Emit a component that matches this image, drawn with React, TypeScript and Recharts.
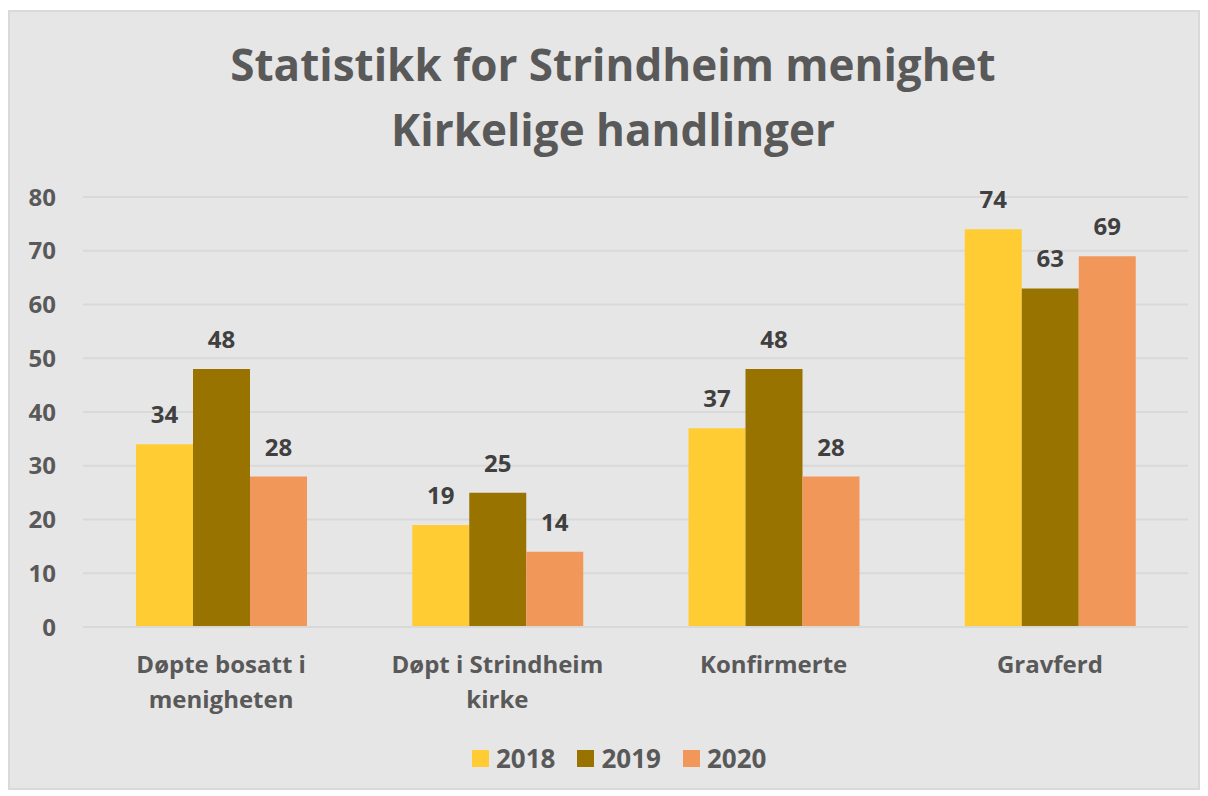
import React from "react";
import { BarChart, Bar, XAxis, YAxis, CartesianGrid, LabelList } from "recharts";

const categories = ["Døpte bosatt i menigheten", "Døpt i Strindheim kirke", "Konfirmerte", "Gravferd"];
const categoryLines = [["Døpte bosatt i", "menigheten"], ["Døpt i Strindheim", "kirke"], ["Konfirmerte"], ["Gravferd"]];
const values2018 = [34, 19, 37, 74];
const values2019 = [48, 25, 48, 63];
const values2020 = [28, 14, 28, 69];
const yTicks = [0, 10, 20, 30, 40, 50, 60, 70, 80];

const SERIES = [
  { key: "y2018", name: "2018", color: "#ffcc33" },
  { key: "y2019", name: "2019", color: "#997300" },
  { key: "y2020", name: "2020", color: "#f1975a" },
];

const FONT = "'Open Sans', sans-serif";
const TEXT = "#595959";

const data = categories.map((c, i) => ({
  name: c,
  y2018: values2018[i],
  y2019: values2019[i],
  y2020: values2020[i],
}));

const CategoryTick = ({ x, y, payload }: any) => {
  const lines = categoryLines[payload.index] || [payload.value];
  return (
    <text x={x} y={y + 38} textAnchor="middle" fill={TEXT} fontFamily={FONT} fontWeight={700} fontSize={24}>
      {lines.map((l, i) => (
        <tspan key={i} x={x} dy={i === 0 ? 0 : 35}>
          {l}
        </tspan>
      ))}
    </text>
  );
};

export default function App() {
  return (
    <div
      style={{
        position: "relative",
        width: 1188,
        height: 776,
        marginTop: 2,
        border: "2px solid #d9d9d9",
        background: "#e7e6e6",
      }}
    >
      <div
        style={{
          position: "absolute",
          left: 0,
          right: 0,
          top: 20,
          textAlign: "center",
          fontFamily: FONT,
          fontWeight: 700,
          fontSize: 44,
          lineHeight: "65px",
          color: TEXT,
        }}
      >
        <div style={{ marginLeft: 18 }}>Statistikk for Strindheim menighet</div>
        <div style={{ marginLeft: 18 }}>Kirkelige handlinger</div>
      </div>
      <BarChart
        width={1188}
        height={776}
        data={data}
        margin={{ top: 185, right: 10, bottom: 61, left: 13 }}
        barGap={0}
        barSize={57}
      >
        <CartesianGrid vertical={false} stroke="#d9d9d9" strokeWidth={2} />
        <XAxis
          dataKey="name"
          axisLine={{ stroke: "#d9d9d9", strokeWidth: 2 }}
          tickLine={false}
          tick={<CategoryTick />}
          interval={0}
          height={100}
        />
        <YAxis
          domain={[0, 80]}
          ticks={yTicks}
          axisLine={false}
          tickLine={false}
          width={60}
          tick={{ fill: TEXT, fontFamily: FONT, fontWeight: 700, fontSize: 24 }}
          tickMargin={21}
        />
        {SERIES.map((s) => (
          <Bar key={s.key} dataKey={s.key} name={s.name} fill={s.color} isAnimationActive={false}>
            <LabelList
              dataKey={s.key}
              position="top"
              offset={21}
              fill="#404040"
              fontFamily={FONT}
              fontWeight={700}
              fontSize={24}
            />
          </Bar>
        ))}
      </BarChart>
      <div
        style={{
          position: "absolute",
          top: 728,
          left: 462,
          display: "flex",
          fontFamily: FONT,
          fontWeight: 700,
          fontSize: 26,
          color: TEXT,
        }}
      >
        {SERIES.map((s) => (
          <div key={s.key} style={{ display: "flex", alignItems: "center", marginRight: 22 }}>
            <span style={{ width: 17, height: 17, background: s.color, marginRight: 7, display: "inline-block" }} />
            {s.name}
          </div>
        ))}
      </div>
    </div>
  );
}
